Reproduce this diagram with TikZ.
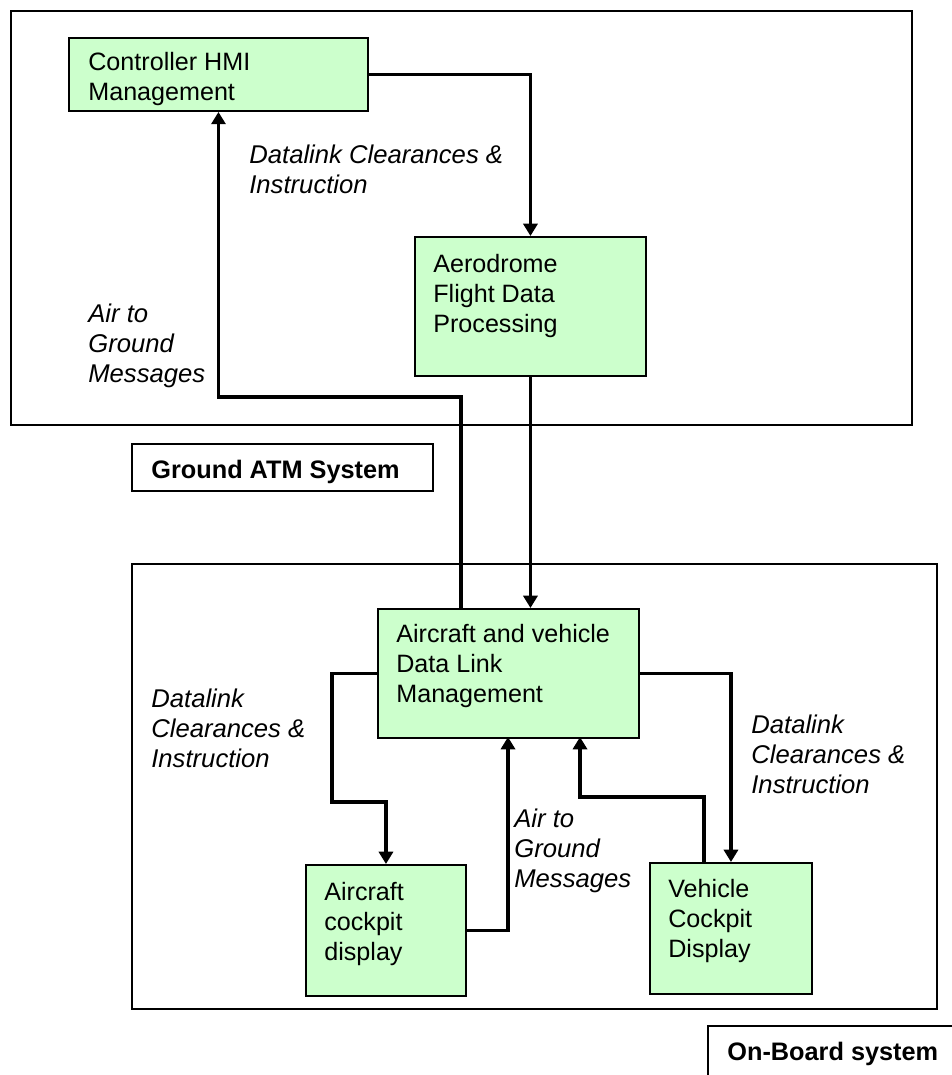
\documentclass[tikz,border=0pt]{standalone}
\usepackage{fontspec}
\setmainfont{Liberation Sans}
\usepackage{tikz}
\usetikzlibrary{arrows.meta}
\definecolor{blockgreen}{HTML}{CCFFCC}
\tikzstyle{block}=[rectangle,draw,line width=1.1pt,fill=blockgreen,inner sep=0pt,anchor=north west]
\tikzstyle{frame}=[rectangle,draw,line width=1.1pt,inner sep=0pt,anchor=north west]
\tikzstyle{blocktext}=[align=left,anchor=base west,inner sep=0pt,font=\fontsize{14.3}{17}\selectfont]
\tikzstyle{flowlabel}=[blocktext,font=\fontsize{14.6}{17}\selectfont\itshape]
\tikzstyle{systemtext}=[anchor=base west,inner sep=0pt,font=\fontsize{14.4}{17}\selectfont\bfseries]
\tikzstyle{flow}=[draw,line width=1.8pt,-{Triangle[length=7pt,width=8pt]}]

\begin{document}
\begin{tikzpicture}[x=0.02cm,y=-0.02cm]
    \useasboundingbox (0,0) rectangle (951,1075);

    \foreach \name/\x/\y/\w/\h in {ground/10/10/901/414, board/131/563/805/445, atm/131/443/301/47, onboard/707/1025/300/100}
        \node[frame,minimum width=\w*0.02cm,minimum height=\h*0.02cm] (\name) at (\x,\y) {};

    \foreach \name/\x/\y/\w/\h in {hmi/68/37/299/73, afdp/414/236/231/139, adlm/377/608/261/129, acd/305/864/160/131, vcd/649/862/162/131}
        \node[block,minimum width=\w*0.02cm,minimum height=\h*0.02cm] (\name) at (\x,\y) {};

    \foreach \name/\pos/\txt in {{hmitext/(88,100)/Controller HMI\\Management}, {afdptext/(433,332)/Aerodrome\\Flight Data\\Processing}, {adlmtext/(396,702)/Aircraft and vehicle\\Data Link\\Management}, {acdtext/(324,960)/Aircraft\\cockpit\\display}, {vcdtext/(668,957)/Vehicle\\Cockpit\\Display}}
        \node[blocktext] (\name) at \pos {\txt};

    \foreach \name/\pos/\txt in {{uplabel/(249,193)/Datalink Clearances \&\\Instruction}, {downlabel/(88,382)/Air to\\Ground\\Messages}, {acdinlabel/(151,767)/Datalink\\Clearances \&\\Instruction}, {acdoutlabel/(514,887)/Air to\\Ground\\Messages}, {vcdinlabel/(751,793)/Datalink\\Clearances \&\\Instruction}}
        \node[flowlabel] (\name) at \pos {\txt};

    \node[systemtext] (atmtext) at (151,478) {Ground ATM System};
    \node[systemtext] (boardtext) at (727,1060) {On-Board system};

    \coordinate (upturn) at (461,397);
    \coordinate (leftturn) at (332,802);
    \coordinate (midturn) at (508,737);
    \coordinate (rightturn) at (704,797);
    \coordinate (rightin) at (580,737);

    \path[flow] (hmi.east) -| (afdp.north);
    \path[flow] (afdp.south) -- (afdp.south |- adlm.north);
    \path[flow] (adlm.north -| upturn) -- (upturn) -| (hmi.south);
    \path[flow] (adlm.west) -| (leftturn) -| (acd.north);
    \path[flow] (acd.east) -| (midturn);
    \path[flow] (adlm.east) -| (vcd.north);
    \path[flow] (vcd.north -| rightturn) -- (rightturn) -| (rightin);
\end{tikzpicture}
\end{document}
